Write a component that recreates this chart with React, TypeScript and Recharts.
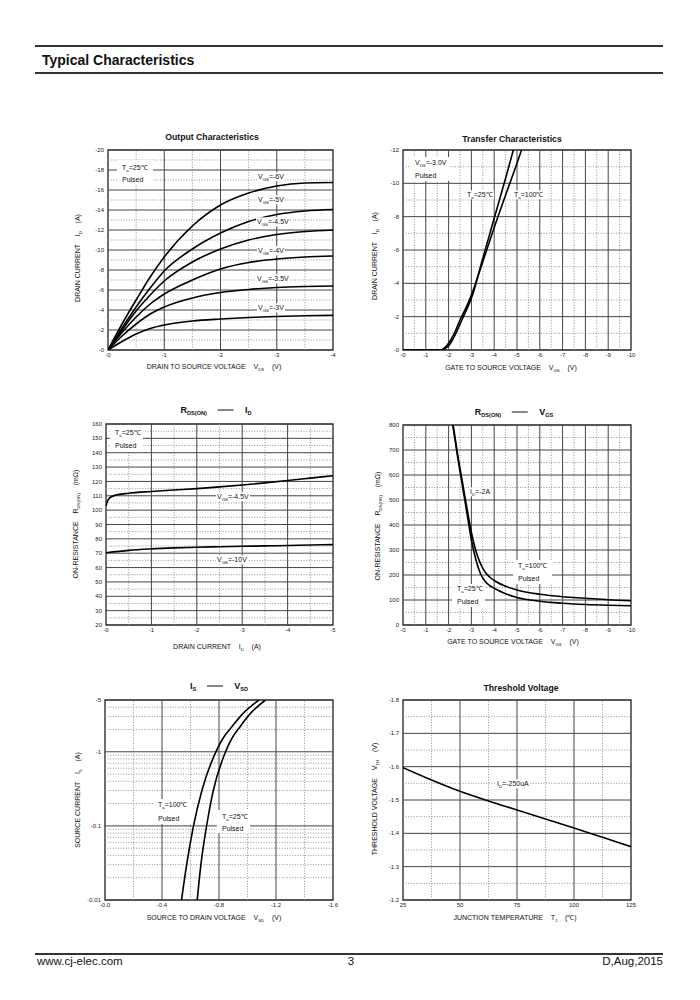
import React from 'react';
import { LineChart, Line, XAxis, YAxis, ReferenceLine, ReferenceArea } from 'recharts';

const FONT = '"Liberation Sans", Arial, Helvetica, sans-serif';

// ---------- Output Characteristics ----------
const outVds = [0, 0.25, 0.5, 0.75, 1, 1.5, 2, 2.5, 3, 3.5, 4];
const outId6V = [0, 2.6, 5.0, 7.3, 9.3, 12.4, 14.5, 15.7, 16.4, 16.7, 16.75];
const outId5V = [0, 2.2, 4.3, 6.2, 7.9, 10.1, 11.7, 12.85, 13.55, 13.9, 14.05];
const outId45V = [0, 2.0, 3.9, 5.5, 6.9, 8.8, 10.1, 11.0, 11.55, 11.85, 12.0];
const outId4V = [0, 1.75, 3.3, 4.6, 5.6, 7.0, 8.1, 8.75, 9.1, 9.3, 9.4];
const outId35V = [0, 1.4, 2.6, 3.6, 4.3, 5.2, 5.75, 6.05, 6.25, 6.35, 6.4];
const outId3V = [0, 0.85, 1.6, 2.15, 2.5, 2.9, 3.1, 3.25, 3.35, 3.42, 3.46];
const outXTicks = [0, 1, 2, 3, 4];
const outYTicks = [0, 2, 4, 6, 8, 10, 12, 14, 16, 18, 20];

// ---------- Transfer Characteristics ----------
const trVgs25 = [0, 1.5, 1.65, 1.8, 2.0, 2.25, 2.5, 2.75, 3.0, 3.5, 4.0, 4.5, 4.84];
const trId25 = [0, 0, 0, 0.05, 0.25, 0.8, 1.55, 2.3, 3.1, 5.5, 7.9, 10.3, 12];
const trVgs100 = [0, 1.5, 1.6, 1.8, 2.0, 2.25, 2.5, 2.75, 3.0, 3.5, 4.0, 4.5, 5.0, 5.2];
const trId100 = [0, 0, 0, 0.1, 0.4, 1.0, 1.8, 2.5, 3.3, 5.3, 7.35, 9.3, 11.2, 12];
const trXTicks = [0, 1, 2, 3, 4, 5, 6, 7, 8, 9, 10];
const trYTicks = [0, 2, 4, 6, 8, 10, 12];

// ---------- RDS(ON) vs ID ----------
const rdsIdA = [0, 0.03, 0.08, 0.2, 0.5, 1, 1.5, 2, 2.5, 3, 3.5, 4, 4.5, 5];
const rdsVgs45 = [103, 106, 108.5, 110.3, 111.8, 113, 114, 115, 116.2, 117.5, 119, 120.6, 122.3, 124];
const rdsIdB = [0, 0.5, 1, 1.5, 2, 2.5, 3, 3.5, 4, 4.5, 5];
const rdsVgs10 = [70.3, 72, 73, 73.7, 74.2, 74.5, 74.8, 75.1, 75.4, 75.7, 76];
const rdsIdXTicks = [0, 1, 2, 3, 4, 5];
const rdsIdYTicks = [20, 30, 40, 50, 60, 70, 80, 90, 100, 110, 120, 130, 140, 150, 160];

// ---------- RDS(ON) vs VGS ----------
const rvVgs25 = [2.18, 2.4, 2.6, 2.8, 3.0, 3.2, 3.4, 3.6, 3.8, 4.0, 4.5, 5, 6, 7, 8, 9, 10];
const rvR25 = [800, 670, 560, 450, 340, 260, 205, 175, 158, 147, 125, 110, 95, 87, 82, 79, 77];
const rvVgs100 = [2.2, 2.4, 2.6, 2.8, 3.0, 3.2, 3.4, 3.6, 3.8, 4.0, 4.5, 5, 6, 7, 8, 9, 10];
const rvR100 = [800, 680, 575, 470, 370, 295, 245, 212, 192, 178, 155, 140, 123, 113, 107, 101, 97];
const rvXTicks = [0, 1, 2, 3, 4, 5, 6, 7, 8, 9, 10];
const rvYTicks = [0, 100, 200, 300, 400, 500, 600, 700, 800];

// ---------- IS vs VSD ----------
const sdIs = [0.01, 0.03, 0.1, 0.3, 1, 1.5, 2.2, 3.3, 5];
const sdV100 = [0.537, 0.573, 0.621, 0.68, 0.778, 0.826, 0.892, 0.969, 1.08];
const sdV25 = [0.647, 0.673, 0.713, 0.76, 0.846, 0.889, 0.949, 1.021, 1.126];
const sdXTicks = [0, 0.4, 0.8, 1.2, 1.6];
const sdYTicks = [0.01, 0.1, 1, 5];

// ---------- Threshold Voltage ----------
const thT = [25, 37.5, 50, 62.5, 75, 87.5, 100, 112.5, 125];
const thV = [1.597, 1.56, 1.526, 1.497, 1.47, 1.443, 1.416, 1.388, 1.36];
const thXTicks = [25, 50, 75, 100, 125];
const thYTicks = [1.2, 1.3, 1.4, 1.5, 1.6, 1.7, 1.8];

const pts = (xs: number[], ys: number[]) => xs.map((x, i) => ({ x, y: ys[i] }));

type Box = { x0: number; y0: number; x1: number; y1: number };

function Panel(props: any) {
  const { box, xDomain, yDomain, xTicks, yTicks, xMajor, yMajor, xMinor, yMinor, xFmt, yFmt, yLog, series } = props;
  const b: Box = box;
  const left = b.x0 - 48;
  const top = b.y0 - 10;
  const w = b.x1 - b.x0 + 63;
  const h = b.y1 - b.y0 + 30;
  const tickStyle = { fontSize: 6, fill: '#222', fontFamily: FONT };
  return (
    <div style={{ position: 'absolute', left, top }}>
      <LineChart width={w} height={h} margin={{ top: 10, right: 15, bottom: 0, left: 0 }}>
        <XAxis type="number" dataKey="x" domain={xDomain} ticks={xTicks} tickFormatter={xFmt} interval={0}
          tickLine={false} axisLine={false} tickSize={0} tickMargin={3} height={20} allowDataOverflow tick={tickStyle} />
        <YAxis type="number" scale={yLog ? 'log' : 'linear'} domain={yDomain} ticks={yTicks} tickFormatter={yFmt} interval={0}
          tickLine={false} axisLine={false} tickSize={0} tickMargin={4} width={48} allowDataOverflow tick={tickStyle} />
        {yMinor.map((v: number) => <ReferenceLine key={'ym' + v} y={v} stroke="#8a8a8a" strokeWidth={0.9} strokeDasharray="1 1.6" />)}
        {xMinor.map((v: number) => <ReferenceLine key={'xm' + v} x={v} stroke="#8a8a8a" strokeWidth={0.9} strokeDasharray="1 1.6" />)}
        {yMajor.map((v: number) => <ReferenceLine key={'yM' + v} y={v} stroke="#444" strokeWidth={1} />)}
        {xMajor.map((v: number) => <ReferenceLine key={'xM' + v} x={v} stroke="#444" strokeWidth={1} />)}
        <ReferenceArea x1={xDomain[0]} x2={xDomain[1]} y1={yDomain[0]} y2={yDomain[1]} fill="none" fillOpacity={0} stroke="#222" strokeWidth={1.3} />
        {series.map((d: any, i: number) => (
          <Line key={i} data={d} dataKey="y" type="monotone" stroke="#000" strokeWidth={1.6} dot={false} isAnimationActive={false} />
        ))}
      </LineChart>
    </div>
  );
}

const Sub = ({ children }: any) => (
  <span style={{ fontSize: '0.62em', position: 'relative', top: '0.4em' }}>{children}</span>
);

function Tx({ x, y, size = 7, bold = false, align = 'left', bg = false, children }: any) {
  const tx = align === 'center' ? '-50%' : align === 'right' ? '-100%' : '0';
  return (
    <div style={{
      position: 'absolute', left: x, top: y, transform: `translate(${tx}, -50%)`, fontSize: size,
      fontWeight: bold ? 700 : 400, fontFamily: FONT, whiteSpace: 'pre', lineHeight: 1, color: '#111',
      background: bg ? '#fff' : undefined, padding: bg ? '1px 1px' : undefined,
    }}>{children}</div>
  );
}

function RotY({ x, y, size = 7, children }: any) {
  return (
    <div style={{
      position: 'absolute', left: x, top: y, transform: 'translate(-50%, -50%) rotate(-90deg)', fontSize: size,
      fontFamily: FONT, whiteSpace: 'pre', lineHeight: 1, color: '#111',
    }}>{children}</div>
  );
}

function WBox({ x0, y0, x1, y1 }: any) {
  return <div style={{ position: 'absolute', left: x0, top: y0, width: x1 - x0, height: y1 - y0, background: '#fff' }} />;
}

const Dash = () => (
  <span style={{ display: 'inline-block', width: 16, height: 1.3, background: '#111', verticalAlign: 'middle', margin: '0 11px' }} />
);

const neg = (v: number) => '-' + v;
const neg1 = (v: number) => '-' + v.toFixed(1);
const plain = (v: number) => String(v);

export default function App() {
  return (
    <div style={{ position: 'absolute', left: 0, top: 0, width: 700, height: 1000, background: '#fff', fontFamily: FONT }}>
      {/* header */}
      <div style={{ position: 'absolute', left: 35, top: 45, width: 628, height: 2, background: '#333' }} />
      <Tx x={42} y={60} size={14} bold>Typical Characteristics</Tx>
      <div style={{ position: 'absolute', left: 35, top: 72, width: 628, height: 2, background: '#333' }} />

      {/* Chart 1 */}
      <Panel box={{ x0: 108, y0: 150, x1: 333, y1: 350 }} xDomain={[0, 4]} yDomain={[0, 20]}
        xTicks={outXTicks} yTicks={outYTicks} xFmt={neg} yFmt={neg}
        xMajor={[1, 2, 3]} xMinor={[0.5, 1.5, 2.5, 3.5]}
        yMajor={[2, 4, 6, 8, 10, 12, 14, 16, 18]} yMinor={[1, 3, 5, 7, 9, 11, 13, 15, 17, 19]}
        series={[pts(outVds, outId6V), pts(outVds, outId5V), pts(outVds, outId45V), pts(outVds, outId4V), pts(outVds, outId35V), pts(outVds, outId3V)]} />
      <Tx x={212} y={137} size={8.7} bold align="center">Output Characteristics</Tx>
      <Tx x={214} y={367} size={7} align="center">DRAIN TO SOURCE VOLTAGE    V<Sub>DS</Sub>    (V)</Tx>
      <RotY x={78} y={258}>DRAIN CURRENT    I<Sub>D</Sub>    (A)</RotY>
      <WBox x0={117} y0={160} x1={153} y1={184} />
      <Tx x={122} y={168} size={7}>T<Sub>a</Sub>=25℃</Tx>
      <Tx x={122} y={179} size={7}>Pulsed</Tx>
      <Tx x={257} y={177} size={7} bg>V<Sub>GS</Sub>=-6V</Tx>
      <Tx x={257} y={200} size={7} bg>V<Sub>GS</Sub>=-5V</Tx>
      <Tx x={256} y={222} size={7} bg>V<Sub>GS</Sub>=-4.5V</Tx>
      <Tx x={257} y={251} size={7} bg>V<Sub>GS</Sub>=-4V</Tx>
      <Tx x={256} y={279} size={7} bg>V<Sub>GS</Sub>=-3.5V</Tx>
      <Tx x={257} y={308} size={7} bg>V<Sub>GS</Sub>=-3V</Tx>

      {/* Chart 2 */}
      <Panel box={{ x0: 403, y0: 150, x1: 631, y1: 350 }} xDomain={[0, 10]} yDomain={[0, 12]}
        xTicks={trXTicks} yTicks={trYTicks} xFmt={neg} yFmt={neg}
        xMajor={[1, 2, 3, 4, 5, 6, 7, 8, 9]} xMinor={[0.5, 1.5, 2.5, 3.5, 4.5, 5.5, 6.5, 7.5, 8.5, 9.5]}
        yMajor={[2, 4, 6, 8, 10]} yMinor={[1, 3, 5, 7, 9, 11]}
        series={[pts(trVgs25, trId25), pts(trVgs100, trId100)]} />
      <Tx x={512} y={139} size={8.7} bold align="center">Transfer Characteristics</Tx>
      <Tx x={511} y={368} size={7} align="center">GATE TO SOURCE VOLTAGE    V<Sub>GS</Sub>    (V)</Tx>
      <RotY x={375} y={256}>DRAIN CURRENT    I<Sub>D</Sub>    (A)</RotY>
      <WBox x0={411} y0={157} x1={450} y1={181} />
      <Tx x={415} y={163} size={7}>V<Sub>DS</Sub>=-3.0V</Tx>
      <Tx x={415} y={175} size={7}>Pulsed</Tx>
      <Tx x={466} y={195} size={7} bg>T<Sub>a</Sub>=25℃</Tx>
      <Tx x={513} y={195} size={7} bg>T<Sub>a</Sub>=100℃</Tx>

      {/* Chart 3 */}
      <Panel box={{ x0: 106, y0: 424, x1: 333, y1: 625 }} xDomain={[0, 5]} yDomain={[20, 160]}
        xTicks={rdsIdXTicks} yTicks={rdsIdYTicks} xFmt={neg} yFmt={plain}
        xMajor={[1, 2, 3, 4]} xMinor={[0.5, 1.5, 2.5, 3.5, 4.5]}
        yMajor={[30, 40, 50, 60, 70, 80, 90, 100, 110, 120, 130, 140, 150]}
        yMinor={[25, 35, 45, 55, 65, 75, 85, 95, 105, 115, 125, 135, 145, 155]}
        series={[pts(rdsIdA, rdsVgs45), pts(rdsIdB, rdsVgs10)]} />
      <Tx x={216} y={410} size={9} bold align="center">R<Sub>DS(ON)</Sub><Dash />I<Sub>D</Sub></Tx>
      <Tx x={217} y={647} size={7} align="center">DRAIN CURRENT    I<Sub>D</Sub>    (A)</Tx>
      <RotY x={76} y={524}>ON-RESISTANCE    R<Sub>DS(ON)</Sub>    (mΩ)</RotY>
      <WBox x0={110} y0={425} x1={143} y1={452} />
      <Tx x={115} y={433} size={7}>T<Sub>a</Sub>=25℃</Tx>
      <Tx x={115} y={445} size={7}>Pulsed</Tx>
      <Tx x={216} y={497} size={7} bg>V<Sub>GS</Sub>=-4.5V</Tx>
      <Tx x={216} y={560} size={7} bg>V<Sub>GS</Sub>=-10V</Tx>

      {/* Chart 4 */}
      <Panel box={{ x0: 403, y0: 425, x1: 631, y1: 625 }} xDomain={[0, 10]} yDomain={[0, 800]}
        xTicks={rvXTicks} yTicks={rvYTicks} xFmt={neg} yFmt={plain}
        xMajor={[1, 2, 3, 4, 5, 6, 7, 8, 9]} xMinor={[0.5, 1.5, 2.5, 3.5, 4.5, 5.5, 6.5, 7.5, 8.5, 9.5]}
        yMajor={[100, 200, 300, 400, 500, 600, 700]} yMinor={[50, 150, 250, 350, 450, 550, 650, 750]}
        series={[pts(rvVgs25, rvR25), pts(rvVgs100, rvR100)]} />
      <Tx x={514} y={412} size={9} bold align="center">R<Sub>DS(ON)</Sub><Dash />V<Sub>GS</Sub></Tx>
      <Tx x={513} y={642} size={7} align="center">GATE TO SOURCE VOLTAGE    V<Sub>GS</Sub>    (V)</Tx>
      <RotY x={378} y={526}>ON-RESISTANCE    R<Sub>DS(ON)</Sub>    (mΩ)</RotY>
      <Tx x={469} y={492} size={7} bg>I<Sub>D</Sub>=-2A</Tx>
      <WBox x0={513} y0={560} x1={552} y1={584} />
      <Tx x={518} y={566} size={7}>T<Sub>a</Sub>=100℃</Tx>
      <Tx x={518} y={578} size={7}>Pulsed</Tx>
      <WBox x0={452} y0={584} x1={485} y1={607} />
      <Tx x={457} y={589} size={7}>T<Sub>a</Sub>=25℃</Tx>
      <Tx x={457} y={601} size={7}>Pulsed</Tx>

      {/* Chart 5 */}
      <Panel box={{ x0: 105, y0: 700, x1: 333, y1: 900 }} xDomain={[0, 1.6]} yDomain={[0.01, 5]} yLog
        xTicks={sdXTicks} yTicks={sdYTicks} xFmt={neg1} yFmt={neg}
        xMajor={[0.4, 0.8, 1.2]} xMinor={[0.2, 0.6, 1.0, 1.4]}
        yMajor={[0.1, 1]} yMinor={[0.02, 0.03, 0.04, 0.05, 0.06, 0.07, 0.08, 0.09, 0.2, 0.3, 0.4, 0.5, 0.6, 0.7, 0.8, 0.9, 2, 3, 4]}
        series={[pts(sdV100, sdIs), pts(sdV25, sdIs)]} />
      <Tx x={219} y={686} size={9} bold align="center">I<Sub>S</Sub><Dash />V<Sub>SD</Sub></Tx>
      <Tx x={214} y={918} size={7} align="center">SOURCE TO DRAIN VOLTAGE    V<Sub>SD</Sub>    (V)</Tx>
      <RotY x={78} y={800}>SOURCE CURRENT    I<Sub>S</Sub>    (A)</RotY>
      <WBox x0={153} y0={799} x1={192} y1={824} />
      <Tx x={158} y={805} size={7}>T<Sub>a</Sub>=100℃</Tx>
      <Tx x={158} y={818} size={7}>Pulsed</Tx>
      <WBox x0={217} y0={810} x1={250} y1={833} />
      <Tx x={222} y={817} size={7}>T<Sub>a</Sub>=25℃</Tx>
      <Tx x={222} y={828} size={7}>Pulsed</Tx>

      {/* Chart 6 */}
      <Panel box={{ x0: 403, y0: 700, x1: 631, y1: 900 }} xDomain={[25, 125]} yDomain={[1.2, 1.8]}
        xTicks={thXTicks} yTicks={thYTicks} xFmt={plain} yFmt={neg1}
        xMajor={[50, 75, 100]} xMinor={[37.5, 62.5, 87.5, 112.5]}
        yMajor={[1.3, 1.4, 1.5, 1.6, 1.7]} yMinor={[1.25, 1.35, 1.45, 1.55, 1.65, 1.75]}
        series={[pts(thT, thV)]} />
      <Tx x={521} y={688} size={8.7} bold align="center">Threshold Voltage</Tx>
      <Tx x={515} y={918} size={7} align="center">JUNCTION TEMPERATURE    T<Sub>J</Sub>    (℃)</Tx>
      <RotY x={375} y={799}>THRESHOLD VOLTAGE    V<Sub>TH</Sub>    (V)</RotY>
      <Tx x={496} y={784} size={7} bg>I<Sub>D</Sub>=-250uA</Tx>

      {/* footer */}
      <div style={{ position: 'absolute', left: 35, top: 953, width: 628, height: 1.5, background: '#333' }} />
      <Tx x={37} y={962} size={11.5}>www.cj-elec.com</Tx>
      <Tx x={351} y={962} size={11.5} align="center">3</Tx>
      <Tx x={663} y={962} size={11.5} align="right">D,Aug,2015</Tx>
    </div>
  );
}
